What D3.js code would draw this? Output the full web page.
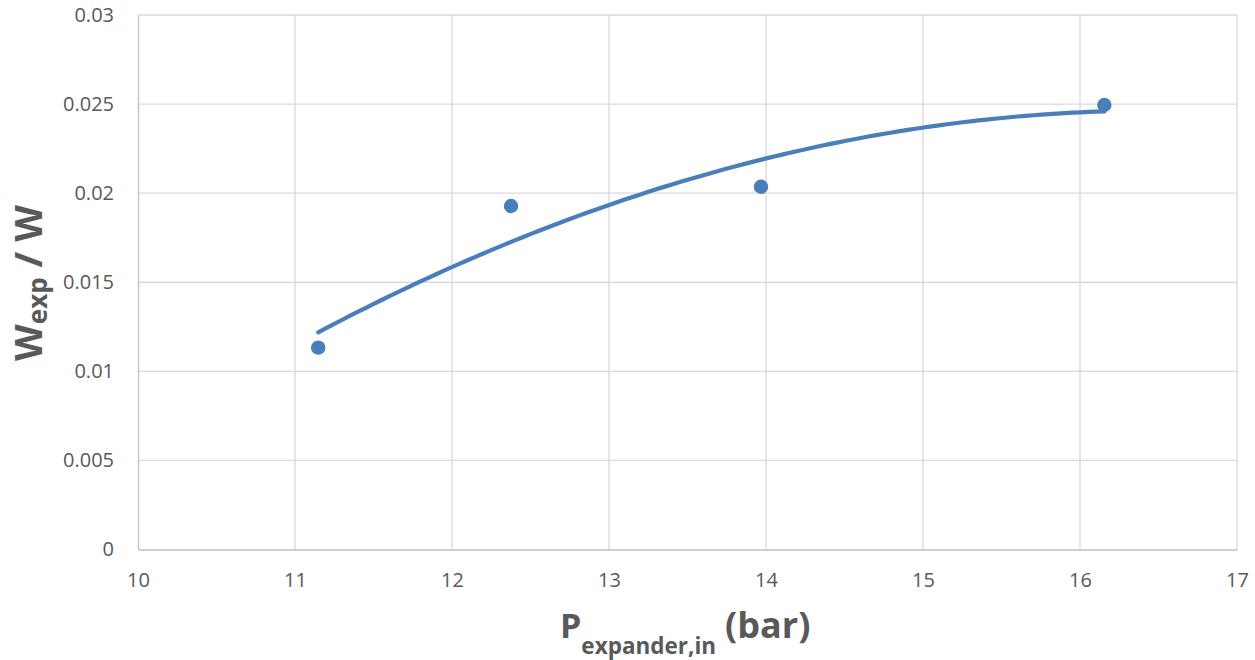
<!DOCTYPE html>
<html>
<head>
<meta charset="utf-8">
<script src="https://cdn.jsdelivr.net/npm/d3@7"></script>
<style>
  html, body { margin: 0; padding: 0; background: #fff; }
  svg { display: block; }
</style>
</head>
<body>
<svg id="chart" width="1255" height="660"></svg>
<script>
// Expander inlet pressure (bar) and work ratio W_exp / W
const pressure = [11.148, 12.376, 13.968, 16.155];
const workRatio = [0.01133, 0.01928, 0.02036, 0.02495];

const xTicks = [10, 11, 12, 13, 14, 15, 16, 17];
const yTicks = [0, 0.005, 0.01, 0.015, 0.02, 0.025, 0.03];
const yTickLabels = ["0", "0.005", "0.01", "0.015", "0.02", "0.025", "0.03"];

const color = "#4A7EBB";
const textColor = "#595959";
const font = "'Open Sans', 'Liberation Sans', sans-serif";

const svg = d3.select("#chart");
const plot = { left: 138, right: 1237, top: 15, bottom: 549.5 };

const x = d3.scaleLinear().domain([10, 17]).range([plot.left, plot.right]);
const y = d3.scaleLinear().domain([0, 0.03]).range([plot.bottom, plot.top]);

// Gridlines
const grid = svg.append("g");
grid.selectAll("line.v").data(xTicks.slice(1)).enter().append("line")
  .attr("x1", d => x(d)).attr("x2", d => x(d))
  .attr("y1", plot.top).attr("y2", plot.bottom)
  .attr("stroke", "#d9d9d9").attr("stroke-width", 1.3);
grid.selectAll("line.h").data(yTicks.slice(1)).enter().append("line")
  .attr("x1", plot.left).attr("x2", plot.right)
  .attr("y1", d => y(d)).attr("y2", d => y(d))
  .attr("stroke", "#d9d9d9").attr("stroke-width", 1.3);

// Axes (lines only, labels styled below)
const xAxis = d3.axisBottom(x).tickValues(xTicks).tickSize(0).tickPadding(23)
  .tickFormat(d3.format("d"));
const gx = svg.append("g").attr("transform", `translate(0,${plot.bottom})`).call(xAxis);
gx.select(".domain").attr("stroke", "#bfbfbf").attr("stroke-width", 1.3);
gx.selectAll("text").attr("fill", textColor).style("font-family", font).style("font-size", "20px");

const yAxis = d3.axisLeft(y).tickValues(yTicks).tickSize(0).tickPadding(24)
  .tickFormat((d, i) => yTickLabels[i]);
const gy = svg.append("g").attr("transform", `translate(${plot.left},0)`).call(yAxis);
gy.select(".domain").attr("stroke", "#bfbfbf").attr("stroke-width", 1.3);
gy.selectAll("text").attr("fill", textColor).style("font-family", font).style("font-size", "20px");

// Second-order polynomial least-squares trendline through the measured points
function polyFit2(xs, ys) {
  const n = xs.length;
  let s = [0, 0, 0, 0, 0], t = [0, 0, 0];
  for (let i = 0; i < n; i++) {
    let p = 1;
    for (let k = 0; k <= 4; k++) { s[k] += p; if (k <= 2) t[k] += p * ys[i]; p *= xs[i]; }
  }
  const A = [[s[0], s[1], s[2], t[0]], [s[1], s[2], s[3], t[1]], [s[2], s[3], s[4], t[2]]];
  for (let c = 0; c < 3; c++) {
    for (let r = c + 1; r < 3; r++) {
      const f = A[r][c] / A[c][c];
      for (let k = c; k < 4; k++) A[r][k] -= f * A[c][k];
    }
  }
  const coef = [0, 0, 0];
  for (let r = 2; r >= 0; r--) {
    let v = A[r][3];
    for (let k = r + 1; k < 3; k++) v -= A[r][k] * coef[k];
    coef[r] = v / A[r][r];
  }
  return coef;
}
const coef = polyFit2(pressure, workRatio);
const fitX = d3.range(0, 101).map(i => d3.min(pressure) + (d3.max(pressure) - d3.min(pressure)) * i / 100);
const fitPts = fitX.map(v => [v, coef[0] + coef[1] * v + coef[2] * v * v]);

svg.append("path")
  .datum(fitPts)
  .attr("d", d3.line().x(d => x(d[0])).y(d => y(d[1])))
  .attr("fill", "none").attr("stroke", color).attr("stroke-width", 4.2)
  .attr("stroke-linecap", "round");

// Data markers
svg.selectAll("circle.pt").data(pressure).enter().append("circle")
  .attr("cx", d => x(d)).attr("cy", (d, i) => y(workRatio[i]))
  .attr("r", 7.2).attr("fill", color);

// Axis titles
const yTitle = svg.append("text")
  .attr("transform", "translate(42,283) rotate(-90)")
  .attr("text-anchor", "middle")
  .attr("fill", textColor).style("font-family", font).style("font-weight", "bold");
yTitle.append("tspan").style("font-size", "38px").text("W");
yTitle.append("tspan").style("font-size", "26px").attr("dy", 5).text("exp");
yTitle.append("tspan").style("font-size", "38px").attr("dy", -5).text(" / W");

const xTitle = svg.append("text")
  .attr("x", 560).attr("y", 637.7)
  .attr("text-anchor", "start")
  .attr("fill", textColor).style("font-family", font).style("font-weight", "bold");
xTitle.append("tspan").style("font-size", "34px").text("P");
xTitle.append("tspan").style("font-size", "22.5px").attr("dy", 16.5).text("expander,in");
xTitle.append("tspan").style("font-size", "36px").attr("dy", -16.5).attr("dx", 9).text("(bar)");
</script>
</body>
</html>
